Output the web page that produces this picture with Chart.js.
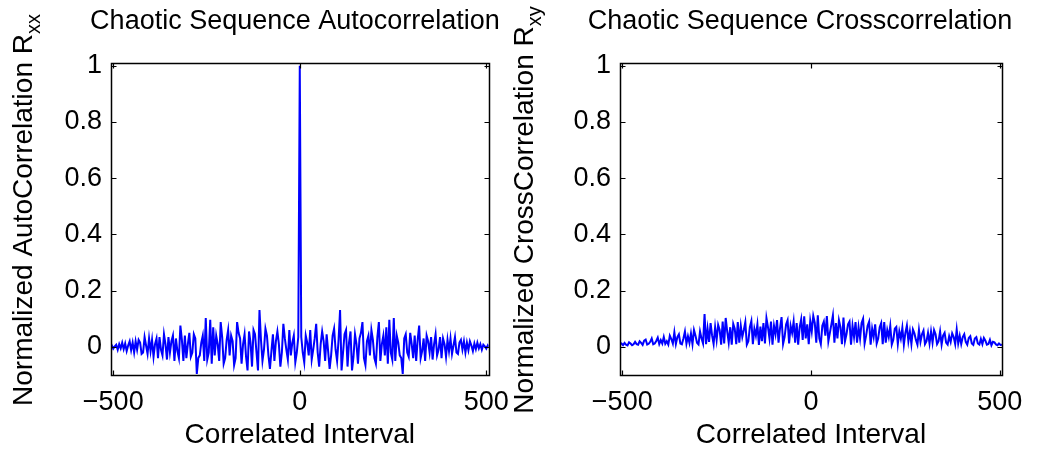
<!DOCTYPE html>
<html><head><meta charset="utf-8">
<script src="https://cdn.jsdelivr.net/npm/chart.js@4/dist/chart.umd.min.js"></script>
<style>
html,body{margin:0;padding:0;background:#fff;overflow:hidden}
#wrap{position:relative;width:1037px;height:453px;background:#fff}
canvas{position:absolute;top:0}
</style></head><body>
<div id="wrap">
<canvas id="c1" width="520" height="453" style="left:0;width:520px;height:453px"></canvas>
<canvas id="c2" width="537" height="453" style="left:500px;width:537px;height:453px"></canvas>
</div>
<script>
// ---------- data ----------
const xTickValues = [-500, 0, 500];
const yTickValues = [0, 0.2, 0.4, 0.6, 0.8, 1];
const lagStep = 4;

// autocorrelation, lags 0,4,...,508 (the curve is symmetric about lag 0)
const autoCorrPositiveLags = [
  1.000, 0.035,-0.020,-0.055, 0.040, 0.015,-0.030, 0.060,-0.045,-0.010, 0.030, 0.082,-0.020,-0.070, 0.010, 0.055,
  0.020,-0.050, 0.045,-0.015,-0.078,-0.030, 0.040, 0.065,-0.010,-0.050, 0.025, 0.131,-0.084,-0.020, 0.045, 0.060,
 -0.070, 0.015, 0.055,-0.084,-0.035, 0.045, 0.010,-0.060, 0.030, 0.050, 0.088,-0.040,-0.065, 0.020, 0.040,-0.030,
  0.060, 0.025,-0.040,-0.060, 0.035, 0.088,-0.050, 0.010, 0.040,-0.030, 0.070,-0.060, 0.096,-0.020,-0.045, 0.103,
 -0.050, 0.040, 0.015,-0.030,-0.040,-0.096, 0.030, 0.045,-0.020,-0.035, 0.050, 0.010,-0.040, 0.040,-0.050, 0.025,
  0.076,-0.040,-0.015, 0.030,-0.050, 0.040, 0.020,-0.020, 0.035,-0.045, 0.010, 0.045,-0.030,-0.010, 0.035,-0.040,
  0.030, 0.010,-0.035, 0.025,-0.015, 0.030,-0.025, 0.005, 0.035,-0.020,-0.025, 0.015, 0.025,-0.010, 0.020,-0.020,
  0.015,-0.012, 0.020, 0.005,-0.015, 0.012,-0.008, 0.015,-0.005, 0.010,-0.010, 0.008, 0.002,-0.006, 0.006,-0.002
];

// crosscorrelation, lags -510,-506,...,510
const crossStartLag = -510;
const crossCorrValues = [
  0.004,0.010,0.012,0.006,0.014,0.008,0.005,0.016,0.012,0.006,0.009,0.018,0.010,0.008,0.020,0.014,
  0.007,0.022,0.026,0.008,0.011,0.018,0.030,0.009,0.012,0.021,0.033,0.010,0.024,0.012,0.035,0.011,
  0.020,0.008,0.040,0.028,0.012,0.052,0.010,0.035,0.045,0.012,0.009,0.030,0.055,0.011,0.038,0.014,
  0.048,0.010,0.060,0.040,0.015,0.009,0.055,0.030,0.012,0.117,0.010,0.065,0.018,0.085,0.040,0.010,
  0.070,0.025,0.078,0.060,0.008,0.090,0.012,0.103,0.055,0.015,0.070,0.008,0.082,0.065,0.010,0.088,
  0.015,0.075,0.035,0.060,0.088,0.008,0.020,0.070,0.092,0.010,0.065,0.040,0.080,0.007,0.072,0.020,
  0.085,0.012,0.102,0.070,0.030,0.090,0.008,0.075,0.045,0.095,0.015,0.068,0.106,0.010,0.035,0.080,
  0.095,0.012,0.075,0.050,0.090,0.015,0.085,0.008,0.070,0.098,0.025,0.109,0.030,0.080,0.010,0.092,
  0.055,0.110,0.085,0.015,0.112,0.030,0.010,0.075,0.090,0.040,0.110,0.020,0.050,0.080,0.112,0.015,
  0.085,0.030,0.095,0.070,0.010,0.104,0.020,0.045,0.080,0.090,0.008,0.075,0.035,0.088,0.015,0.070,
  0.030,0.085,0.100,0.012,0.040,0.075,0.090,0.008,0.065,0.035,0.080,0.012,0.030,0.070,0.085,0.010,
  0.088,0.015,0.060,0.035,0.075,0.008,0.025,0.065,0.071,0.010,0.055,0.030,0.068,0.008,0.050,0.076,
  0.020,0.055,0.010,0.062,0.048,0.025,0.008,0.060,0.018,0.045,0.058,0.010,0.020,0.050,0.012,0.055,
  0.015,0.060,0.045,0.010,0.020,0.055,0.008,0.040,0.050,0.015,0.008,0.038,0.018,0.048,0.035,0.010,
  0.062,0.012,0.040,0.010,0.035,0.045,0.018,0.008,0.032,0.038,0.012,0.007,0.030,0.035,0.012,0.008,
  0.028,0.010,0.032,0.022,0.008,0.010,0.025,0.006,0.018,0.016,0.009,0.006,0.012,0.007,0.008,0.005
];

const titles = ['Chaotic Sequence Autocorrelation', 'Chaotic Sequence Crosscorrelation'];
const xLabel = 'Correlated Interval';
const yLabels = [['Normalized AutoCorrelation R', 'xx'], ['Normalized CrossCorrelation R', 'xy']];

// ---------- build point tables ----------
const autoPoints = [];
for (let i = autoCorrPositiveLags.length - 1; i >= 1; i--) autoPoints.push({x: -i * lagStep, y: autoCorrPositiveLags[i]});
for (let i = 0; i < autoCorrPositiveLags.length; i++) autoPoints.push({x: i * lagStep, y: autoCorrPositiveLags[i]});
const crossPoints = crossCorrValues.map((v, i) => ({x: crossStartLag + i * lagStep, y: v}));

// ---------- styling ----------
const FAMILY = '"Liberation Sans", Arial, Helvetica, sans-serif';
const TICK_FS = 27, TITLE_FS = 27, LABEL_FS = 28, SUB_FS = 20;
Chart.defaults.font.family = FAMILY;
Chart.defaults.font.size = TICK_FS;
Chart.defaults.color = '#000';

const framePlugin = {
  id: 'frame',
  afterDatasetsDraw(chart, args, o) {
    const ctx = chart.ctx;
    const {left, right, top, bottom} = chart.chartArea;
    const xs = chart.scales.x, ys = chart.scales.y;
    ctx.save();
    ctx.strokeStyle = '#000';
    ctx.lineWidth = 1.5;
    const L = Math.round(left) + 0.5, R = Math.round(right) + 0.5, T = Math.round(top) + 0.5, B = Math.round(bottom) + 0.5;
    ctx.strokeRect(L, T, R - L, B - T);
    ctx.beginPath();
    ctx.lineWidth = 1.2;
    const tl = 5;
    xTickValues.forEach(v => {
      const px = Math.round(xs.getPixelForValue(v)) + 0.5;
      ctx.moveTo(px, B); ctx.lineTo(px, B - tl);
      ctx.moveTo(px, T); ctx.lineTo(px, T + tl);
    });
    yTickValues.forEach(v => {
      const py = Math.round(ys.getPixelForValue(v)) + 0.5;
      ctx.moveTo(L, py); ctx.lineTo(L + tl, py);
      ctx.moveTo(R, py); ctx.lineTo(R - tl, py);
    });
    ctx.stroke();

    ctx.fillStyle = '#000';
    ctx.textAlign = 'center';
    ctx.textBaseline = 'alphabetic';
    ctx.font = TITLE_FS + 'px ' + FAMILY;
    ctx.fillText(o.title, o.titleX, 29);
    ctx.font = LABEL_FS + 'px ' + FAMILY;
    ctx.fillText(xLabel, (left + right) / 2, 443);

    // rotated y label with subscript
    ctx.translate(o.yLabelX, o.yLabelY);
    ctx.rotate(-Math.PI / 2);
    ctx.textAlign = 'left';
    const mainFont = LABEL_FS + 'px ' + FAMILY, subFont = SUB_FS + 'px ' + FAMILY;
    ctx.font = mainFont; const w1 = ctx.measureText(o.yLabel[0]).width;
    ctx.font = subFont;  const w2 = ctx.measureText(o.yLabel[1]).width;
    const start = -(w1 + w2) / 2;
    ctx.font = mainFont; ctx.fillText(o.yLabel[0], start, 0);
    ctx.font = subFont;  ctx.fillText(o.yLabel[1], start + w1, 8);
    ctx.restore();
  }
};

function makeChart(id, points, idx, yAxisWidth, padRight, titleX, yLabelX) {
  return new Chart(document.getElementById(id), {
    type: 'line',
    data: { datasets: [{ data: points, borderColor: '#0000ff', borderWidth: 2, pointRadius: 0, fill: false, tension: 0 }] },
    options: {
      responsive: false, animation: false, devicePixelRatio: 1,
      layout: { padding: { top: 63, right: padRight, left: 0, bottom: 0 } },
      plugins: {
        legend: { display: false }, tooltip: { enabled: false }, title: { display: false },
        frame: { title: titles[idx], titleX: titleX, yLabel: yLabels[idx], yLabelX: yLabelX, yLabelY: 210 }
      },
      scales: {
        x: {
          type: 'linear', min: -506, max: 506,
          grid: { display: false, drawTicks: false }, border: { display: false },
          afterBuildTicks: s => { s.ticks = xTickValues.map(v => ({ value: v })); },
          afterFit: s => { s.height = 78; },
          ticks: { padding: 11, maxRotation: 0, autoSkip: false,
            callback: v => (v < 0 ? '\u2212' + Math.abs(v) : String(v)) }
        },
        y: {
          type: 'linear', min: -0.1, max: 1.01,
          grid: { display: false, drawTicks: false }, border: { display: false },
          afterBuildTicks: s => { s.ticks = yTickValues.map(v => ({ value: v })); },
          afterFit: s => { s.width = yAxisWidth; },
          ticks: { padding: 9, autoSkip: false, callback: v => String(Math.round(v * 10) / 10) }
        }
      }
    },
    plugins: [framePlugin]
  });
}

makeChart('c1', autoPoints, 0, 111, 27, 295, 32);
makeChart('c2', crossPoints, 1, 120, 35, 300, 33);
</script>
</body></html>
